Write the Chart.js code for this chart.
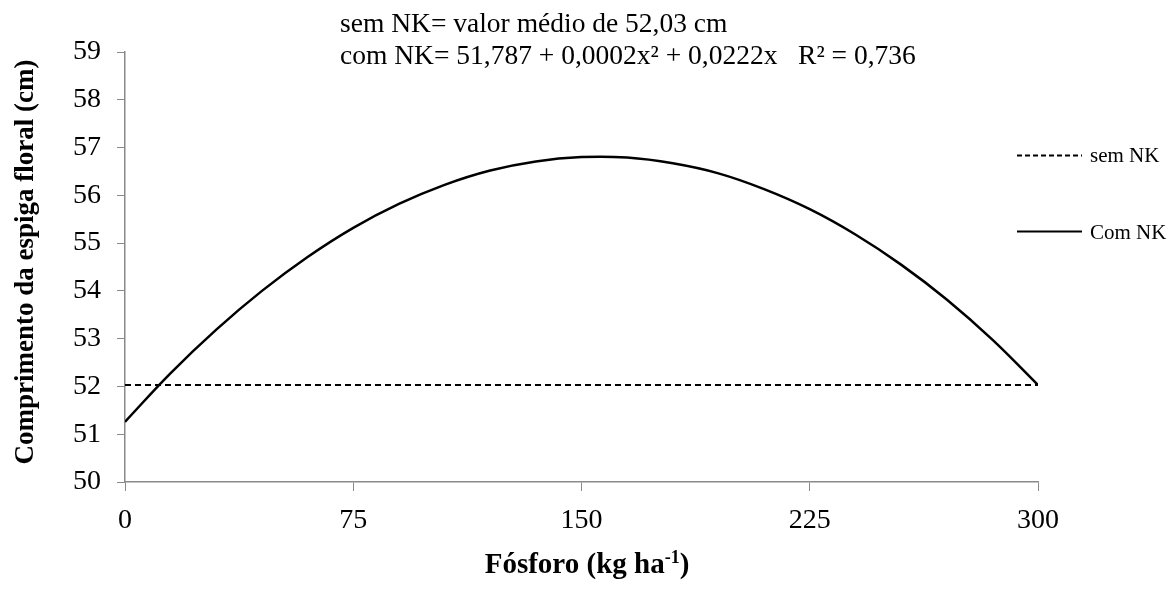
<!DOCTYPE html>
<html>
<head>
<meta charset="utf-8">
<script src="https://cdn.jsdelivr.net/npm/chart.js@4"></script>
<style>
  html, body { margin: 0; padding: 0; background: #fff; }
  #c { display: block; }
</style>
</head>
<body>
<canvas id="c" width="1175" height="590"></canvas>
<script>
// Doses de fósforo (kg ha-1) e comprimento da espiga floral (cm)
const doses = [0, 15, 30, 45, 60, 75, 90, 105, 120, 135, 150, 165, 180, 195, 210, 225, 240, 255, 270, 285, 300];
const comNK = [51.26, 52.28, 53.19, 54.00, 54.71, 55.32, 55.82, 56.22, 56.52, 56.71, 56.80, 56.79, 56.67, 56.46, 56.13, 55.71, 55.18, 54.55, 53.82, 52.98, 52.03];
const semNKDoses = [0, 300];
const semNK = [52.03, 52.03];

const xTicks = [0, 75, 150, 225, 300];
const yMin = 50, yMax = 59;

const seriesNames = ['sem NK', 'Com NK'];
const eqLines = [
  'sem NK= valor médio de 52,03 cm',
  'com NK= 51,787 + 0,0002x² + 0,0222x   R² = 0,736'
];
const yTitle = 'Comprimento da espiga floral (cm)';
const xTitleParts = ['Fósforo (kg ha', '-1', ')'];

const SERIF = '"Liberation Serif", "Times New Roman", serif';
const AXIS_GRAY = '#8a8a8a';

const textos = {
  id: 'textos',
  afterDraw(chart) {
    const ctx = chart.ctx;
    ctx.save();
    ctx.fillStyle = '#000';

    // equações no topo
    ctx.font = '27.5px ' + SERIF;
    ctx.textAlign = 'left';
    ctx.textBaseline = 'alphabetic';
    ctx.fillText(eqLines[0], 340, 32);
    ctx.fillText(eqLines[1], 340, 64);

    // legenda à direita
    ctx.strokeStyle = '#000';
    ctx.lineWidth = 2;
    ctx.setLineDash([5, 3]);
    ctx.beginPath(); ctx.moveTo(1017, 155.5); ctx.lineTo(1082, 155.5); ctx.stroke();
    ctx.setLineDash([]);
    ctx.beginPath(); ctx.moveTo(1017, 231.5); ctx.lineTo(1082, 231.5); ctx.stroke();
    ctx.font = '21px ' + SERIF;
    ctx.textBaseline = 'middle';
    ctx.fillText(seriesNames[0], 1090, 156);
    ctx.fillText(seriesNames[1], 1090, 233);

    // título do eixo y
    ctx.save();
    ctx.translate(33, 262);
    ctx.rotate(-Math.PI / 2);
    ctx.font = 'bold 27px ' + SERIF;
    ctx.textAlign = 'center';
    ctx.textBaseline = 'alphabetic';
    ctx.fillText(yTitle, 0, 0);
    ctx.restore();

    // título do eixo x com expoente
    const big = 'bold 29px ' + SERIF, small = 'bold 18px ' + SERIF;
    ctx.font = big;
    const w0 = ctx.measureText(xTitleParts[0]).width;
    const w2 = ctx.measureText(xTitleParts[2]).width;
    ctx.font = small;
    const w1 = ctx.measureText(xTitleParts[1]).width;
    const total = w0 + w1 + w2;
    let x = 587 - total / 2;
    const base = 573;
    ctx.textAlign = 'left';
    ctx.textBaseline = 'alphabetic';
    ctx.font = big; ctx.fillText(xTitleParts[0], x, base); x += w0;
    ctx.font = small; ctx.fillText(xTitleParts[1], x, base - 10); x += w1;
    ctx.font = big; ctx.fillText(xTitleParts[2], x, base);
    ctx.restore();
  }
};

new Chart(document.getElementById('c'), {
  type: 'line',
  data: {
    datasets: [
      {
        label: seriesNames[0],
        data: semNKDoses.map((d, i) => ({ x: d, y: semNK[i] })),
        borderColor: '#000',
        borderWidth: 2,
        borderDash: [6, 4],
        pointRadius: 0,
        fill: false
      },
      {
        label: seriesNames[1],
        data: doses.map((d, i) => ({ x: d, y: comNK[i] })),
        borderColor: '#000',
        borderWidth: 2.5,
        tension: 0.4,
        pointRadius: 0,
        fill: false
      }
    ]
  },
  options: {
    responsive: false,
    animation: false,
    events: [],
    layout: { padding: { left: 0, right: 137, top: 52, bottom: 0 } },
    plugins: { legend: { display: false }, tooltip: { enabled: false } },
    scales: {
      x: {
        type: 'linear',
        min: 0, max: 300,
        afterBuildTicks: s => { s.ticks = xTicks.map(v => ({ value: v })); },
        afterFit: s => { s.height = 108; },
        grid: { drawOnChartArea: false, drawTicks: true, tickLength: 9, color: AXIS_GRAY },
        border: { color: AXIS_GRAY, width: 1.5 },
        ticks: { color: '#000', font: { family: SERIF, size: 28 }, padding: 13, maxRotation: 0 }
      },
      y: {
        min: yMin, max: yMax,
        ticks: { stepSize: 1, color: '#000', font: { family: SERIF, size: 28 }, padding: 16 },
        afterFit: s => { s.width = 125; },
        grid: { drawOnChartArea: false, drawTicks: true, tickLength: 8, color: AXIS_GRAY },
        border: { color: AXIS_GRAY, width: 1.5 }
      }
    }
  },
  plugins: [textos]
});
</script>
</body>
</html>
